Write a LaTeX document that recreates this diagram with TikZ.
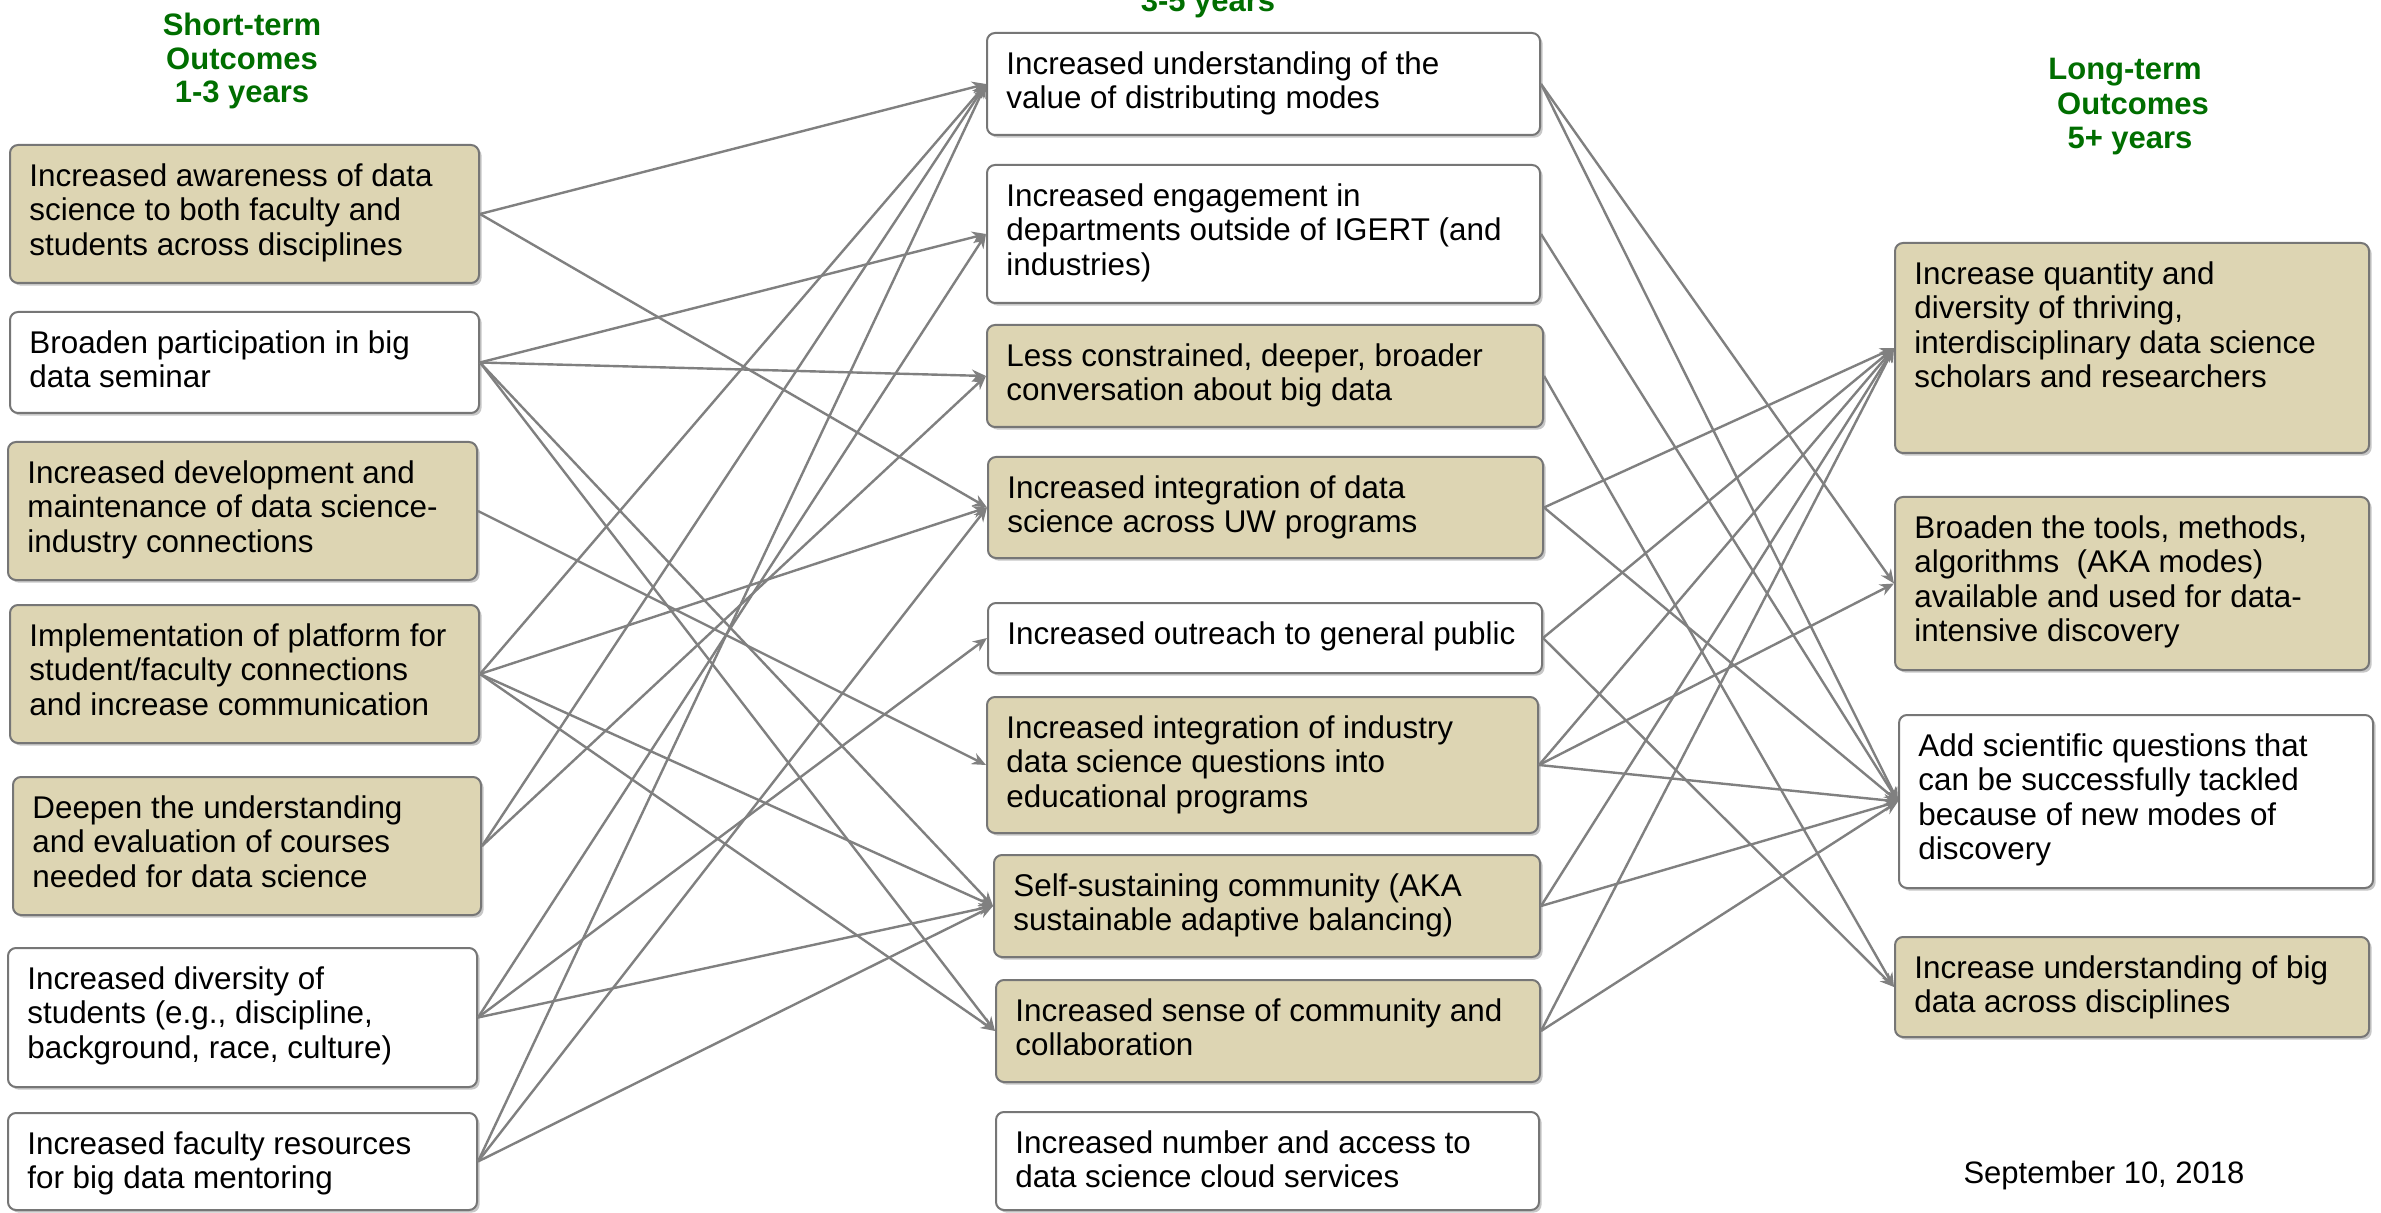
\documentclass[tikz,border=0pt]{standalone}
\usepackage{fontspec}
\setmainfont{Liberation Sans}
\usetikzlibrary{arrows.meta,fit,calc,shadows}
\definecolor{tanfill}{RGB}{221,213,179}
\definecolor{bordergray}{RGB}{118,118,118}
\definecolor{arrgray}{RGB}{128,128,128}
\definecolor{titlegreen}{RGB}{0,110,0}
\tikzset{
  box/.style={draw=bordergray, line width=1pt, rounded corners=4pt, inner sep=0pt,
    drop shadow={shadow xshift=1.3pt, shadow yshift=-1.3pt, fill=black!40, opacity=0.55}},
  tanbox/.style={box, fill=tanfill},
  whitebox/.style={box, fill=white},
  txt/.style={anchor=north west, inner sep=0pt, align=left,
    font=\fontsize{15.7}{17.25}\selectfont},
  ttl/.style={anchor=base, inner sep=0pt, text=titlegreen,
    font=\fontsize{15.5}{17.25}\selectfont\bfseries},
  arr/.style={draw=arrgray, line width=1.2pt, -{Stealth[length=7pt,width=6pt]}},
}
\newcommand\boxtext[3]{\node[txt] (#2) at ($(#1.north west)+(20,17.85)$) {\strut #3};}
\begin{document}
\begin{tikzpicture}[x=0.5pt,y=-0.5pt]
\useasboundingbox[fill=white] (0,0) rectangle (2381,1213);

% titles
\node[ttl] (st1) at (242,36) {Short-term};
\node[ttl] (st2) at (242,70) {Outcomes};
\node[ttl] (st3) at (242,103) {1-3 years};
\node[ttl] (it3) at (1208,12) {3-5 years};
\node[ttl] (lt1) at (2125,80) {Long-term};
\node[ttl] (lt2) at (2133,115) {Outcomes};
\node[ttl] (lt3) at (2130,149) {5+ years};
\node[anchor=base, inner sep=0pt, font=\fontsize{15.5}{17.25}\selectfont] (date) at (2104,1183) {September 10, 2018};

% left column
\node[tanbox,   fit={(10,145) (479,283)}] (L1) {};
\node[whitebox, fit={(10,312) (479,413)}] (L2) {};
\node[tanbox,   fit={(8,442) (477,580)}] (L3) {};
\node[tanbox,   fit={(10,605) (479,743)}] (L4) {};
\node[tanbox,   fit={(13,777) (481,915)}] (L5) {};
\node[whitebox, fit={(8,948) (477,1087)}] (L6) {};
\node[whitebox, fit={(8,1113) (477,1210)}] (L7) {};
\boxtext{L1}{L1t}{Increased awareness of data\\science to both faculty and\\students across disciplines}
\boxtext{L2}{L2t}{Broaden participation in big\\data seminar}
\boxtext{L3}{L3t}{Increased development and\\maintenance of data science-\\industry connections}
\boxtext{L4}{L4t}{Implementation of platform for\\student/faculty connections\\and increase communication}
\boxtext{L5}{L5t}{Deepen the understanding\\and evaluation of courses\\needed for data science}
\boxtext{L6}{L6t}{Increased diversity of\\students (e.g., discipline,\\background, race, culture)}
\boxtext{L7}{L7t}{Increased faculty resources\\for big data mentoring}

% middle column
\node[whitebox, fit={(987,33) (1540,135)}] (M1) {};
\node[whitebox, fit={(987,165) (1540,303)}] (M2) {};
\node[tanbox,   fit={(987,325) (1543,427)}] (M3) {};
\node[tanbox,   fit={(988,457) (1543,558)}] (M4) {};
\node[whitebox, fit={(988,603) (1542,673)}] (M5) {};
\node[tanbox,   fit={(987,697) (1538,833)}] (M6) {};
\node[tanbox,   fit={(994,855) (1540,957)}] (M7) {};
\node[tanbox,   fit={(996,980) (1540,1082)}] (M8) {};
\node[whitebox, fit={(996,1112) (1539,1210)}] (M9) {};
\boxtext{M1}{M1t}{Increased understanding of the\\value of distributing modes}
\boxtext{M2}{M2t}{Increased engagement in\\departments outside of IGERT (and\\industries)}
\boxtext{M3}{M3t}{Less constrained, deeper, broader\\conversation about big data}
\boxtext{M4}{M4t}{Increased integration of data\\science across UW programs}
\boxtext{M5}{M5t}{Increased outreach to general public}
\boxtext{M6}{M6t}{Increased integration of industry\\data science questions into\\educational programs}
\boxtext{M7}{M7t}{Self-sustaining community (AKA\\sustainable adaptive balancing)}
\boxtext{M8}{M8t}{Increased sense of community and\\collaboration}
\boxtext{M9}{M9t}{Increased number and access to\\data science cloud services}

% right column
\node[tanbox,   fit={(1895,243) (2369,453)}] (R1) {};
\node[tanbox,   fit={(1895,497) (2369,670)}] (R2) {};
\node[whitebox, fit={(1899,715) (2373,888)}] (R3) {};
\node[tanbox,   fit={(1895,937) (2369,1037)}] (R4) {};
\boxtext{R1}{R1t}{Increase quantity and\\diversity of thriving,\\interdisciplinary data science\\scholars and researchers}
\boxtext{R2}{R2t}{Broaden the tools, methods,\\algorithms\ \ (AKA modes)\\available and used for data-\\intensive discovery}
\boxtext{R3}{R3t}{Add scientific questions that\\can be successfully tackled\\because of new modes of\\discovery}
\boxtext{R4}{R4t}{Increase understanding of big\\data across disciplines}

% connectors left -> middle
\foreach \s/\t in {L1/M1,L1/M4,L2/M2,L2/M3,L2/M7,L2/M8,L3/M6,L4/M1,L4/M4,L4/M7,L4/M8,
  L5/M1,L5/M3,L6/M2,L6/M5,L6/M7,L7/M1,L7/M4,L7/M7}
  \draw[arr] (\s.east) -- (\t.west);
% connectors middle -> right
\foreach \s/\t in {M1/R2,M1/R3,M2/R3,M3/R4,M4/R1,M4/R3,M5/R1,M5/R4,M6/R1,M6/R2,M6/R3,
  M7/R1,M7/R3,M8/R1,M8/R3}
  \draw[arr] (\s.east) -- (\t.west);
\end{tikzpicture}
\end{document}
